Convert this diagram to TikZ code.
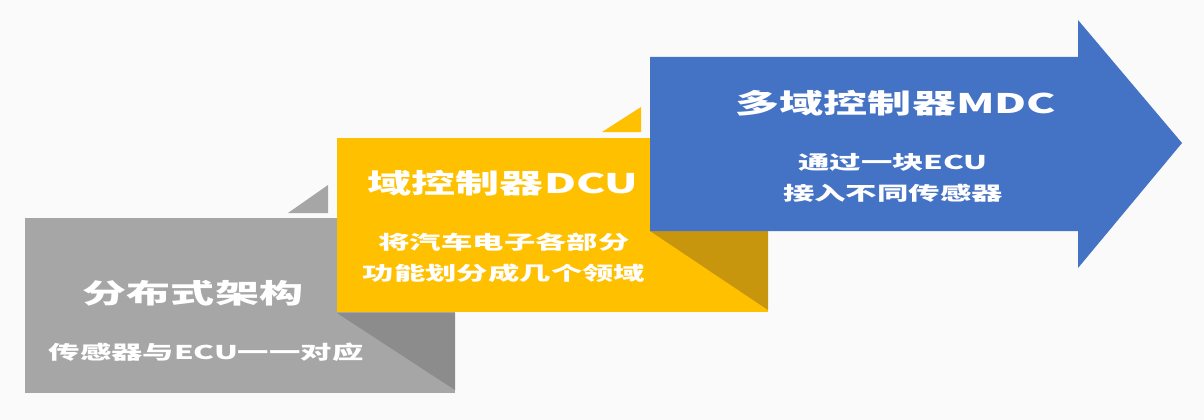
\documentclass[tikz,border=0pt]{standalone}
\usepackage{graphicx}
\usepackage{fontspec}
\newfontfamily\cjk{Noto Sans CJK SC}
\definecolor{bgwhite}{HTML}{FAFAFB}
\definecolor{grayA}{HTML}{A6A6A6}
\definecolor{grayB}{HTML}{8C8C8C}
\definecolor{yellowA}{HTML}{FFC000}
\definecolor{yellowB}{HTML}{C8960C}
\definecolor{blueA}{HTML}{4472C4}
\newcommand{\wide}[2][1.65]{\scalebox{#1}[1]{#2}}
\tikzset{
	boxtitle/.style={text=white, inner sep=0pt, font=\cjk\bfseries\fontsize{27}{32}\selectfont},
	boxtext/.style={text=white, inner sep=0pt, align=center, font=\cjk\bfseries\fontsize{19}{31}\selectfont}
}
\begin{document}
\begin{tikzpicture}[x=1pt, y=-1pt]
			%%%%% START %%%%%
			
			\path[use as bounding box, fill=bgwhite] (0, 0) rectangle (1204, 420);
			
			\draw[fill=grayA, draw=none] (25, 218) rectangle (455, 393);
			\fill[grayB] (337, 313) -- (455, 313) -- (455, 390) -- cycle;
			\fill[grayA] (288, 213) -- (328, 213) -- (328, 185) -- cycle;
			\node[boxtitle] (distTitle) at (193, 293) {\wide[1.63]{分布式架构}};
			\node[boxtext] (distText) at (206, 352) {\wide{传感器与ECU一一对应}};
			
			\draw[fill=yellowA, draw=none] (337, 138) rectangle (768, 312);
			\fill[yellowB] (650, 231) -- (768, 231) -- (768, 310) -- cycle;
			\fill[yellowA] (602, 132) -- (641, 132) -- (641, 107) -- cycle;
			\node[boxtitle] (dcuTitle) at (503, 183) {\wide[1.63]{域控制器DCU}};
			\node[boxtext] (dcuText) at (504, 257.5) {\wide{将汽车电子各部分}\\\wide{功能划分成几个领域}};
			
			\fill[blueA] (650, 57) -- (1078, 57) -- (1078, 20) -- (1182, 143) -- (1078, 268) -- (1078, 231) -- (650, 231) -- cycle;
			\node[boxtitle] (mdcTitle) at (896, 103) {\wide[1.63]{多域控制器MDC}};
			\node[boxtext] (mdcText) at (893, 177.5) {\wide{通过一块ECU}\\\wide{接入不同传感器}};
			
			%%%%% END %%%%%
\end{tikzpicture}
\end{document}
